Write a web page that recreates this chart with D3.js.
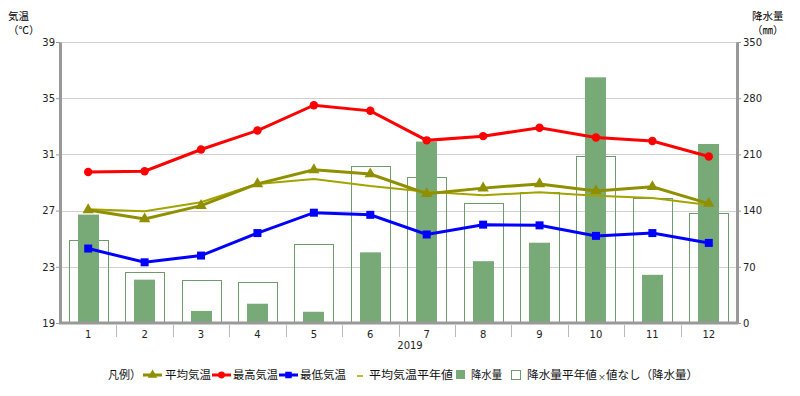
<!DOCTYPE html>
<html>
<head>
<meta charset="utf-8">
<script src="https://cdn.jsdelivr.net/npm/d3@7"></script>
<style>
  body { margin: 0; background: #fff; }
  text { font-family: "DejaVu Sans", sans-serif; }
  .jp { font-family: "Noto Sans CJK JP", sans-serif; }
</style>
</head>
<body>
<div id="viz"></div>
<script>
// chart data
var months = [1, 2, 3, 4, 5, 6, 7, 8, 9, 10, 11, 12];
var avgTemp = [27.05, 26.4, 27.35, 28.9, 29.9, 29.6, 28.2, 28.6, 28.9, 28.4, 28.7, 27.5];
var maxTemp = [29.75, 29.8, 31.35, 32.7, 34.5, 34.1, 32.0, 32.3, 32.9, 32.2, 31.95, 30.85];
var minTemp = [24.3, 23.32, 23.8, 25.4, 26.85, 26.7, 25.3, 26.0, 25.95, 25.2, 25.4, 24.7];
var normTemp = [27.1, 26.95, 27.6, 28.9, 29.25, 28.75, 28.35, 28.1, 28.3, 28.05, 27.9, 27.4];
var rain = [135, 54, 15, 24, 14, 88, 226, 77, 100, 306, 60, 223];
var normRain = [103, 63, 53, 51, 98, 195, 182, 150, 163, 208, 156, 137];
var tempTicks = [19, 23, 27, 31, 35, 39];
var rainTicks = [0, 70, 140, 210, 280, 350];

var svg = d3.select('#viz').append('svg')
  .attr('width', 800)
  .attr('height', 396);

// plot area
var pLeft = 60, pRight = 737, pTop = 42, pBottom = 323;

var x = d3.scaleBand().domain(months).range([pLeft, pRight]).padding(0);
var yT = d3.scaleLinear().domain([19, 39]).range([pBottom, pTop]);
var yP = d3.scaleLinear().domain([0, 350]).range([pBottom, pTop]);

// gridlines
svg.append('g').selectAll('line')
  .data(tempTicks.slice(1))
  .enter().append('line')
  .attr('x1', pLeft).attr('x2', pRight)
  .attr('y1', function (d) { return Math.round(yT(d)) + 0.5; })
  .attr('y2', function (d) { return Math.round(yT(d)) + 0.5; })
  .attr('stroke', '#d0d0d0')
  .attr('stroke-width', 1);

// normal rainfall (outline bars)
var outW = 39;
svg.append('g').selectAll('rect')
  .data(normRain)
  .enter().append('rect')
  .attr('x', function (d, i) { return Math.round(x(months[i]) + x.bandwidth() / 2 - outW / 2) + 0.5; })
  .attr('y', function (d) { return Math.round(yP(d)) + 0.5; })
  .attr('width', outW)
  .attr('height', function (d) { return pBottom - Math.round(yP(d)); })
  .attr('fill', 'none')
  .attr('stroke', '#6e9a6e')
  .attr('stroke-width', 1);

// rainfall bars
var barW = 21;
svg.append('g').selectAll('rect')
  .data(rain)
  .enter().append('rect')
  .attr('x', function (d, i) { return Math.round(x(months[i]) + x.bandwidth() / 2 - barW / 2); })
  .attr('y', function (d) { return yP(d); })
  .attr('width', barW)
  .attr('height', function (d) { return pBottom - yP(d); })
  .attr('fill', '#78aa78');

function cx(d, i) { return x(months[i]) + x.bandwidth() / 2; }

// normal temperature line
svg.append('path')
  .datum(normTemp)
  .attr('d', d3.line().x(cx).y(function (d) { return yT(d); }))
  .attr('fill', 'none')
  .attr('stroke', '#a3a300')
  .attr('stroke-width', 2);

// temperature series
function drawSeries(vals, color, shape) {
  svg.append('path')
    .datum(vals)
    .attr('d', d3.line().x(cx).y(function (d) { return yT(d); }))
    .attr('fill', 'none')
    .attr('stroke', color)
    .attr('stroke-width', 3);
  svg.append('g').selectAll('path')
    .data(vals)
    .enter().append('path')
    .attr('d', d3.symbol().type(shape).size(shape === d3.symbolSquare ? 64 : 56))
    .attr('transform', function (d, i) { return 'translate(' + cx(d, i) + ',' + yT(d) + ')'; })
    .attr('fill', color);
}
drawSeries(avgTemp, '#8f8f00', d3.symbolTriangle);
drawSeries(maxTemp, '#ff0000', d3.symbolCircle);
drawSeries(minTemp, '#0000ff', d3.symbolSquare);

// axes
var leftAxis = svg.append('g')
  .attr('transform', 'translate(' + pLeft + ',0)')
  .call(d3.axisLeft(yT).tickValues(tempTicks).tickSize(4).tickSizeOuter(0));
var rightAxis = svg.append('g')
  .attr('transform', 'translate(' + pRight + ',0)')
  .call(d3.axisRight(yP).tickValues(rainTicks).tickSize(4).tickSizeOuter(0));
[leftAxis, rightAxis].forEach(function (a) {
  a.select('.domain').attr('stroke', '#999').attr('stroke-width', 3);
  a.selectAll('.tick line').attr('stroke', '#999');
  a.selectAll('.tick text').attr('font-size', 10).attr('fill', '#222');
});
leftAxis.selectAll('.tick text').attr('x', -5);
rightAxis.selectAll('.tick text').attr('x', 6);

// x axis: line, dividers and labels
svg.append('line')
  .attr('x1', pLeft - 1).attr('x2', pRight + 1)
  .attr('y1', pBottom).attr('y2', pBottom)
  .attr('stroke', '#999').attr('stroke-width', 3);
svg.append('g').selectAll('line')
  .data(months.slice(1))
  .enter().append('line')
  .attr('x1', function (d) { return Math.round(x(d)) + 0.5; })
  .attr('x2', function (d) { return Math.round(x(d)) + 0.5; })
  .attr('y1', pBottom + 2).attr('y2', pBottom + 14)
  .attr('stroke', '#bbb');
svg.append('g').selectAll('text')
  .data(months)
  .enter().append('text')
  .attr('x', function (d, i) { return cx(d, i); })
  .attr('y', pBottom + 15)
  .attr('text-anchor', 'middle')
  .attr('font-size', 10)
  .attr('fill', '#222')
  .text(function (d) { return d; });
svg.append('text')
  .attr('x', 410).attr('y', 349)
  .attr('text-anchor', 'middle')
  .attr('font-size', 10)
  .attr('fill', '#222')
  .text('2019');

// axis titles
svg.append('text').attr('class', 'jp').attr('x', 8).attr('y', 20)
  .attr('font-size', 10.5).text('気温');
svg.append('text').attr('class', 'jp').attr('x', 8).attr('y', 34)
  .attr('font-size', 10.5).text('（℃）');
svg.append('text').attr('class', 'jp').attr('x', 752).attr('y', 20)
  .attr('font-size', 10.5).text('降水量');
svg.append('text').attr('class', 'jp').attr('x', 752).attr('y', 34)
  .attr('font-size', 10.5).text('（㎜）');

// legend
var ly = 375;
var legend = svg.append('g');
function legText(tx, s, w) {
  legend.append('text').attr('class', 'jp').attr('x', tx).attr('y', ly + 4)
    .attr('font-size', 11.5).attr('fill', '#111')
    .attr('textLength', w).attr('lengthAdjust', 'spacingAndGlyphs')
    .text(s);
}
legText(108, '凡例）', 33);
function legLine(x0, color, shape, sz) {
  legend.append('line').attr('x1', x0).attr('x2', x0 + 19)
    .attr('y1', ly).attr('y2', ly).attr('stroke', color).attr('stroke-width', 3);
  legend.append('path').attr('d', d3.symbol().type(shape).size(sz))
    .attr('transform', 'translate(' + (x0 + 9.5) + ',' + ly + ')').attr('fill', color);
}
legLine(143, '#8f8f00', d3.symbolTriangle, 40);
legText(165, '平均気温', 46);
legLine(212, '#ff0000', d3.symbolCircle, 36);
legText(233, '最高気温', 45);
legLine(279, '#0000ff', d3.symbolSquare, 42);
legText(300, '最低気温', 46);
legend.append('line').attr('x1', 357).attr('x2', 363)
  .attr('y1', ly + 1).attr('y2', ly + 1).attr('stroke', '#a3a300').attr('stroke-width', 1.5);
legText(369, '平均気温平年値', 84);
legend.append('rect').attr('x', 456).attr('y', ly - 5).attr('width', 9).attr('height', 9)
  .attr('fill', '#78aa78');
legText(471, '降水量', 31);
legend.append('rect').attr('x', 511.5).attr('y', ly - 4.5).attr('width', 9).attr('height', 9)
  .attr('fill', 'none').attr('stroke', '#6e9a6e');
legText(527, '降水量平年値', 70);
legend.append('text').attr('class', 'jp').attr('x', 598).attr('y', ly + 5)
  .attr('font-size', 8).attr('fill', '#111').text('×');
legText(606, '値なし（降水量）', 92);
</script>
</body>
</html>
